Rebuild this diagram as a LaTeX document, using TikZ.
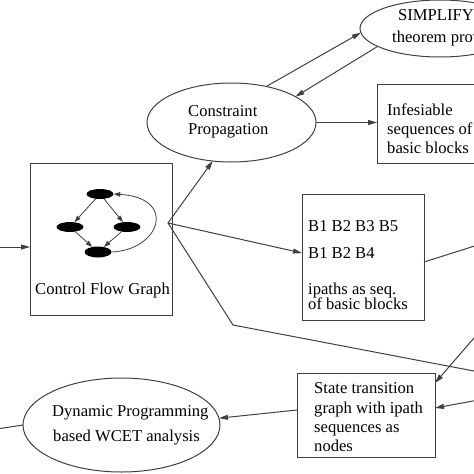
\documentclass[tikz,border=0pt]{standalone}
\usepackage{fontspec}
\setmainfont{Liberation Serif}
\usetikzlibrary{shapes.geometric,arrows.meta,calc}
\begin{document}
\begin{tikzpicture}[x=1pt,y=-1pt,
  line/.style={draw=black!75,line width=1pt},
  arr/.style={line,-{Triangle[length=9pt,width=5pt]}},
  smallarr/.style={line,line width=0.8pt,-{Triangle[length=6.5pt,width=4.5pt]}},
  ell/.style={ellipse,draw=black!75,line width=1pt,inner sep=0pt,outer sep=0pt},
  box/.style={rectangle,draw=black!75,line width=1pt,inner sep=0pt,outer sep=0pt},
  txt/.style={anchor=base west,inner sep=0pt,font=\fontsize{16.6}{19}\selectfont},
  blob/.style={ellipse,fill=black,inner sep=0pt,minimum width=27pt,minimum height=10pt}]
\useasboundingbox (0,0) rectangle (474,474);
\clip (0,0) rectangle (474,474);

% shapes
\node[ell,minimum width=169pt,minimum height=79pt] (cp) at (231.5,122.5) {};
\node[ell,minimum width=160pt,minimum height=57pt] (simp) at (440,28.5) {};
\node[box,anchor=north west,minimum width=140pt,minimum height=79pt] (inf) at (377,84) {};
\node[box,anchor=north west,minimum width=122pt,minimum height=126pt] (paths) at (302,194) {};
\node[box,anchor=north west,minimum width=142pt,minimum height=152pt] (cfg) at (30,163) {};
\node[box,anchor=north west,minimum width=138pt,minimum height=84pt] (stg) at (297,373) {};
\node[ell,minimum width=197pt,minimum height=94pt] (dp) at (121.5,425) {};

% texts
\node[txt] (cpt1) at (188,116) {Constraint};
\node[txt] (cpt2) at (188,134) {Propagation};
\node[txt] (st1) at (398,20) {SIMPLIFY};
\node[txt] (st2) at (392,42) {theorem prover};
\node[txt] (it1) at (387,115) {Infesiable};
\node[txt] (it2) at (387,134) {sequences of};
\node[txt] (it3) at (387,153) {basic blocks};
\node[txt] (pt1) at (308,231) {B1 B2 B3 B5};
\node[txt] (pt2) at (308,258) {B1 B2 B4};
\node[txt] (pt3) at (308,294) {ipaths as seq.};
\node[txt] (pt4) at (308,309) {of basic blocks};
\node[txt] (cft) at (35,294) {Control Flow Graph};
\node[txt] (sg1) at (314,393) {State transition};
\node[txt] (sg2) at (314,413) {graph with ipath};
\node[txt] (sg3) at (314,432) {sequences as};
\node[txt] (sg4) at (314,451) {nodes};
\node[txt] (dpt1) at (52,416) {Dynamic Programming};
\node[txt] (dpt2) at (53,441) {based WCET analysis};

% mini control flow graph
\node[blob] (n1) at (100,194) {};
\node[blob] (n2) at (70,227) {};
\node[blob] (n3) at (127,227) {};
\node[blob,minimum height=11pt] (n4) at (98,252) {};
\draw[smallarr] (n1) -- (n2);
\draw[smallarr] (n1) -- (n3);
\draw[smallarr] (n2) -- (n4);
\draw[smallarr] (n3) -- (n4);
\draw[smallarr] (n4.east) .. controls (160,250) and (178,198) .. (n1.east);

% coordinates
\coordinate (fan) at (168,223);
\coordinate (bend) at (233,325);
\coordinate (offL) at (-5,247);
\coordinate (offL2) at (-10,430);
\coordinate (offR1) at (500,376);
\coordinate (offR2) at (500,238);
\coordinate (offR3) at (500,308);
\coordinate (offR4) at (500,396);

% connectors
\draw[arr] (offL) -- (cfg.west |- offL);
\draw[arr] (fan) -- (cp.244);
\draw[arr] (fan) -- ($(paths.west)+(0,-4)$);
\draw[line] (fan) -- (bend) -- (offR1);
\draw[arr] (cp.46) -- (simp.183);
\draw[arr] (simp.196) -- (cp.22);
\draw[arr] (cp.east) -- (cp.east -| inf.west);
\draw[line] ($(paths.east)+(0,5)$) -- (offR2);
\draw[arr] (offR3) -- ($(stg.north east)+(0,10)$);
\draw[arr] (offR4) -- ($(stg.east)+(0,-7)$);
\draw[arr] ($(stg.west)+(0,-5)$) -- (dp.4);
\draw[line] (dp.west) -- (offL2);
\end{tikzpicture}
\end{document}
